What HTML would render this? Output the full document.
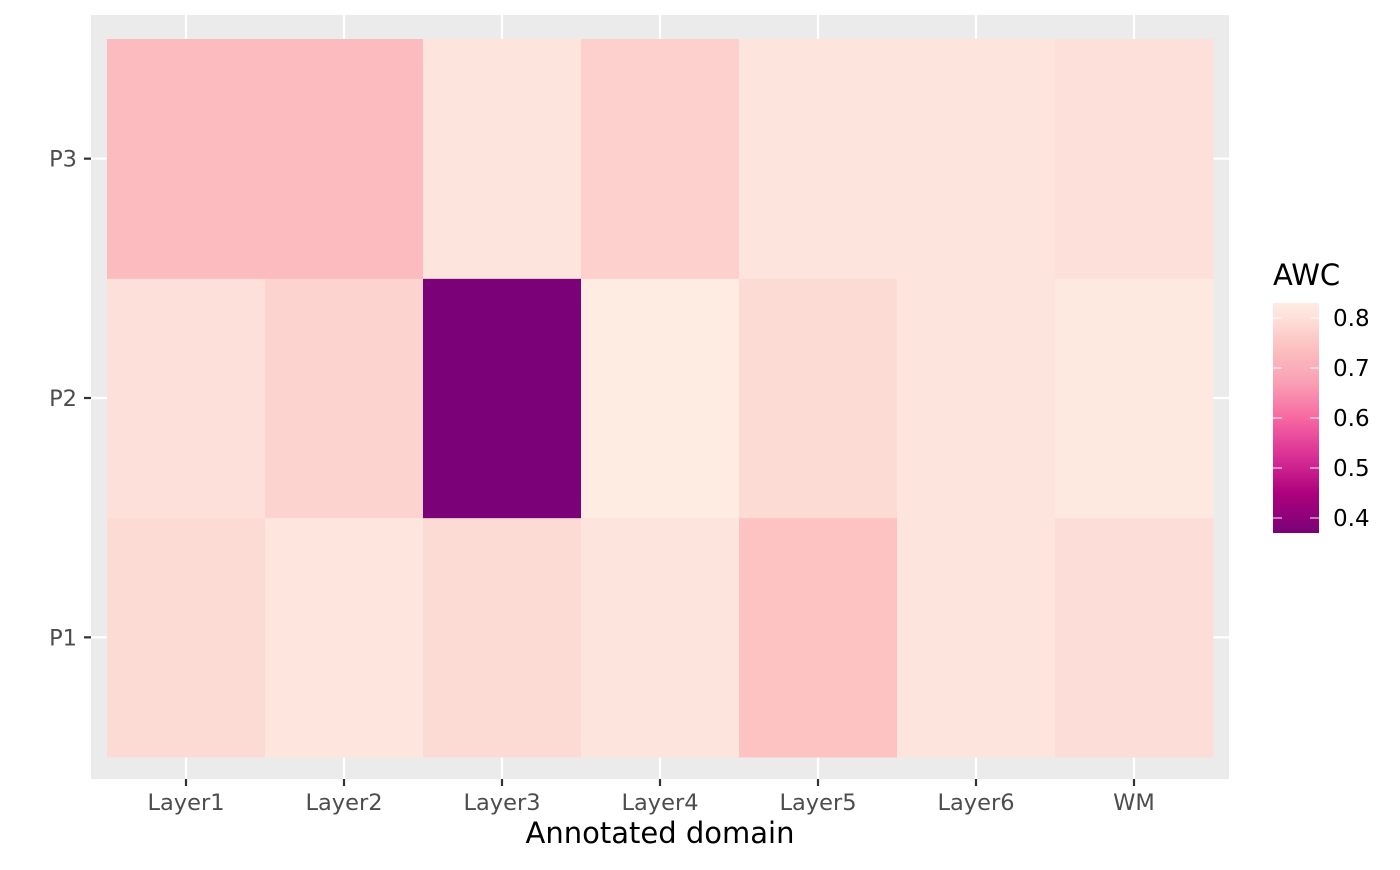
<!DOCTYPE html>
<html><head><meta charset="utf-8"><style>
body{margin:0;background:#fff;font-family:"Liberation Sans","DejaVu Sans",sans-serif}
</style></head><body>
<svg id="chart" width="1400" height="865" xmlns="http://www.w3.org/2000/svg" font-family="DejaVu Sans, Liberation Sans, sans-serif">
<rect x="91" y="15" width="1138" height="764" fill="#EBEBEB"/>
<g id="grid"></g><g id="cells"></g><g id="axes"></g>
<text x="660" y="843" text-anchor="middle" font-size="29" fill="#000">Annotated domain</text>
<text x="1273" y="285" font-size="29" fill="#000">AWC</text>
<defs><linearGradient id="lg" x1="0" y1="1" x2="0" y2="0"></linearGradient></defs>
<rect x="1273" y="303" width="46" height="230" fill="url(#lg)"/>
<g id="legend"></g>
</svg>
<script>
const categories=["Layer1","Layer2","Layer3","Layer4","Layer5","Layer6","WM"];
const rows=["P1","P2","P3"];
const valuesP1=[0.79,0.815,0.79,0.81,0.745,0.81,0.795];
const valuesP2=[0.80,0.775,0.37,0.83,0.79,0.81,0.825];
const valuesP3=[0.73,0.73,0.81,0.77,0.81,0.81,0.80];
const legendTicks=[0.4,0.5,0.6,0.7,0.8];
const stopVals=[0.37,0.45,0.53,0.6,0.67,0.74,0.80,0.83];
const stopCols=["#7A0177","#AE017E","#DD3497","#F768A1","#FA9FB5","#FCC0C0","#FDE0D9","#FEEBE2"];
const NS="http://www.w3.org/2000/svg";
const vmin=0.37,vmax=0.83;
const x0=107,cw=158,y0=39,ch=239.33;
const xc=i=>x0+cw*i+cw/2;
const yc=r=>y0+ch*(rows.length-1-r)+ch/2;
const ly=v=>533-(v-vmin)/(vmax-vmin)*230;
function hex(h){return [1,3,5].map(i=>parseInt(h.substr(i,2),16));}
function color(v){
 if(v<=stopVals[0])return stopCols[0];
 for(let i=1;i<stopVals.length;i++){if(v<=stopVals[i]){const t=(v-stopVals[i-1])/(stopVals[i]-stopVals[i-1]);const a=hex(stopCols[i-1]),b=hex(stopCols[i]);return "rgb("+a.map((c,k)=>Math.round(c+(b[k]-c)*t)).join(",")+")";}}
 return stopCols[stopCols.length-1];
}
function mk(tag,attrs,parent){const e=document.createElementNS(NS,tag);for(const k in attrs)e.setAttribute(k,attrs[k]);document.getElementById(parent).appendChild(e);return e;}
const grid="grid",cells="cells",axes="axes";
categories.forEach((c,i)=>{
 const l=mk("line",{x1:xc(i),x2:xc(i),y1:15,y2:779,stroke:"#fff","stroke-width":2.2},grid);
 
 
 const t=mk("line",{x1:xc(i),x2:xc(i),y1:779,y2:786,stroke:"#333","stroke-width":2.2},axes);
 
 
 const tx=mk("text",{x:xc(i),y:810,"text-anchor":"middle","font-size":22.5,fill:"#4D4D4D"},axes);tx.textContent=c;
 
 
});
rows.forEach((r,j)=>{
 const l=mk("line",{x1:91,x2:1229,y1:yc(j),y2:yc(j),stroke:"#fff","stroke-width":2.2},grid);
 
 
 const t=mk("line",{x1:84,x2:91,y1:yc(j),y2:yc(j),stroke:"#333","stroke-width":2.2},axes);
 
 
 const tx=mk("text",{x:77,y:yc(j)+8,"text-anchor":"end","font-size":22.5,fill:"#4D4D4D"},axes);tx.textContent=r;
 
 
});
[valuesP1,valuesP2,valuesP3].forEach((vals,j)=>vals.forEach((v,i)=>{
 const r=mk("rect",{x:x0+cw*i,y:y0+ch*(rows.length-1-j),width:cw+0.5,height:ch+0.5,fill:color(v)},cells);
 
 
}));
const lg=document.getElementById("lg");
stopVals.forEach((v,i)=>{const s=document.createElementNS(NS,"stop");s.setAttribute("offset",((v-vmin)/(vmax-vmin)*100)+"%");s.setAttribute("stop-color",stopCols[i]);lg.appendChild(s);});
legendTicks.forEach(v=>{
 const a=mk("line",{x1:1273,x2:1282,y1:ly(v),y2:ly(v),stroke:"#fff","stroke-width":1.2,opacity:0.8},"legend");
 
 
 const b=mk("line",{x1:1310,x2:1319,y1:ly(v),y2:ly(v),stroke:"#fff","stroke-width":1.2,opacity:0.8},"legend");
 
 
 const t=mk("text",{x:1333,y:ly(v)+8,"font-size":23,fill:"#000"},"legend");t.textContent=v.toFixed(1);
 
 
});
</script>
</body></html>
